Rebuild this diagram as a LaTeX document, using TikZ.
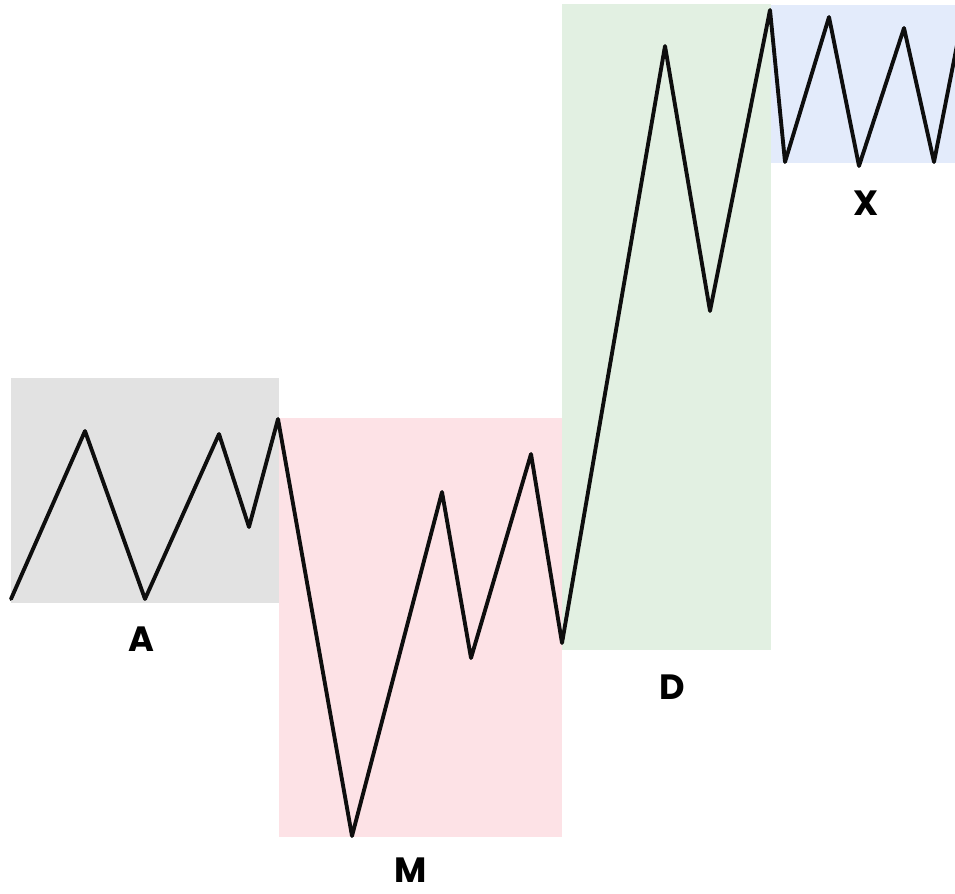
\documentclass[tikz,border=0pt]{standalone}
\usepackage{fontspec}
\setmainfont{Poppins}
\usepackage{tikz}
\usetikzlibrary{positioning}
\definecolor{BoxGray}{RGB}{226,226,226}
\definecolor{BoxPink}{RGB}{253,226,230}
\definecolor{BoxGreen}{RGB}{226,240,226}
\definecolor{BoxBlue}{RGB}{227,235,251}
\definecolor{InkBlack}{RGB}{14,14,14}
\tikzset{
  phase/.style={draw=none},
  price/.style={draw=InkBlack,line width=2.2pt,line join=round,line cap=round},
  tag/.style={font=\fontsize{20}{23}\selectfont\bfseries,text=black,inner sep=0pt}
}
\begin{document}
\begin{tikzpicture}[x=0.02cm,y=-0.02cm]
\useasboundingbox (0,0) rectangle (955,893);
% phase boxes
\fill[phase,BoxGray]  (11,378) rectangle (279,603);
\fill[phase,BoxPink]  (279,418) rectangle (562,837);
\fill[phase,BoxGreen] (562,4) rectangle (771,650);
\fill[phase,BoxBlue]  (771,5) rectangle (955,163);

% price swings
\draw[price] (11,599) -- (85,431) -- (145,599) -- (219,434) -- (249,527) -- (278,419)
  -- (352,836) -- (442,492) -- (471,658) -- (531,454) -- (562,643)
  -- (665,46) -- (710,311) -- (770,10)
  -- (785,162) -- (829,17) -- (859,166) -- (904,28) -- (934,162) -- (958,40);

% labels
\node[tag] (accum) at (141,639) {A};
\node[tag] (manip) at (411,870) {M};
\node[tag] (distr) at (672,687) {D};
\node[tag] (cont)  at (866,203) {X};
\end{tikzpicture}
\end{document}
